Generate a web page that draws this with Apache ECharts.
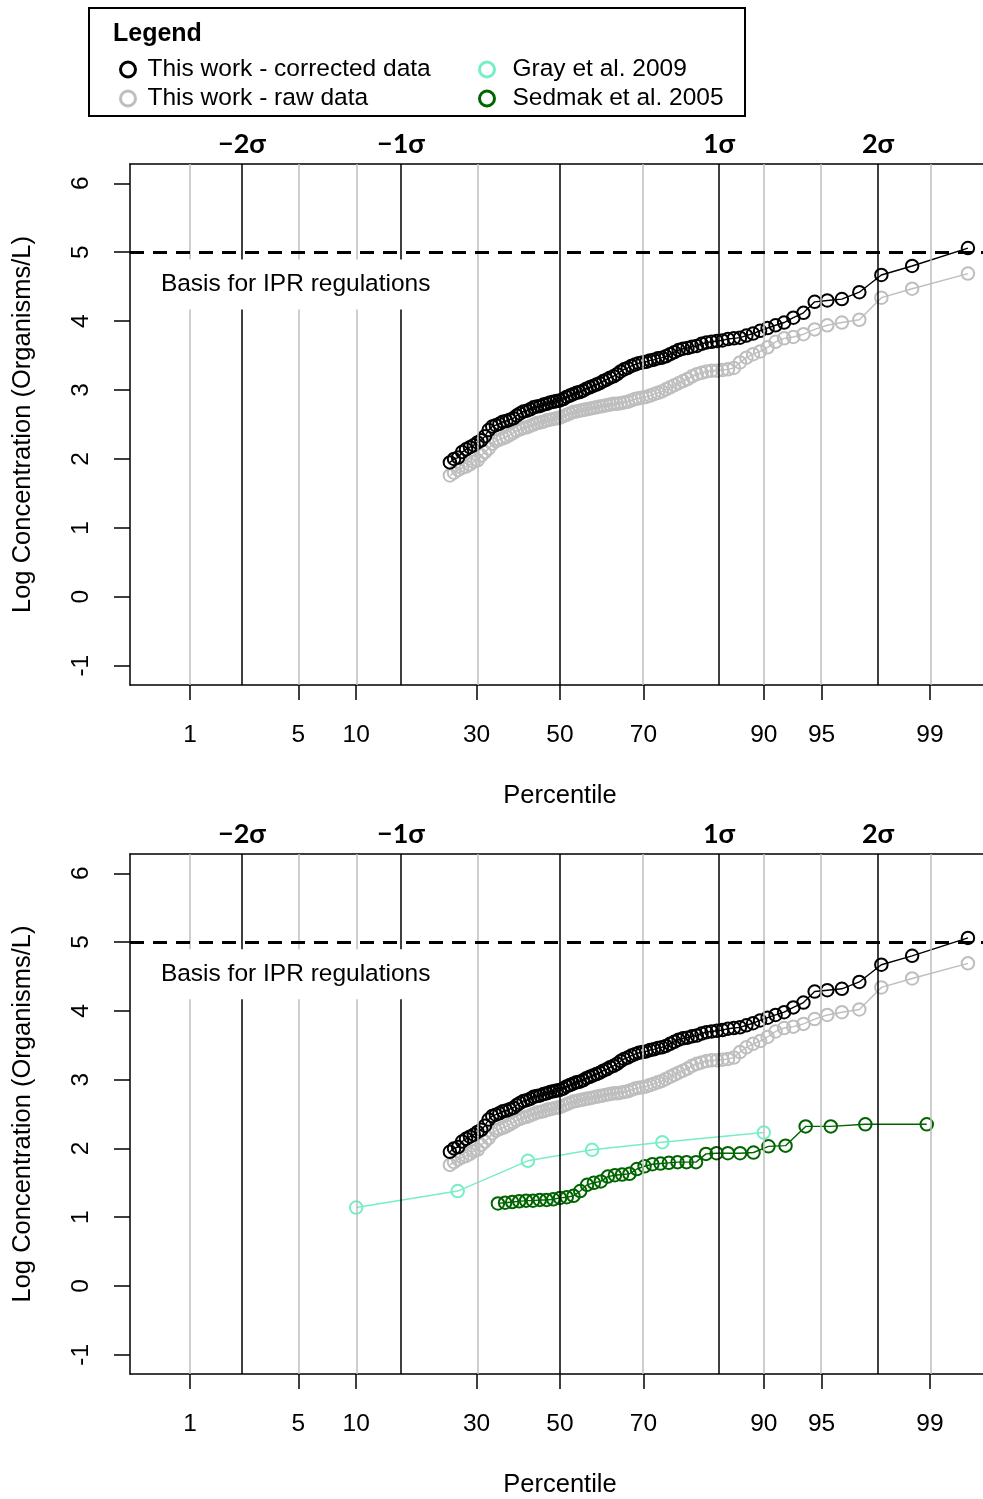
<!DOCTYPE html>
<html>
<head>
<meta charset="utf-8">
<script src="https://cdn.jsdelivr.net/npm/echarts@6/dist/echarts.min.js"></script>
<style>
html,body{margin:0;padding:0;background:#fff}
#chart{width:983px;height:1499px}
</style>
</head>
<body>
<div id="chart"></div>
<script>
// ---- axis ticks and reference lines ----
const percentileTicks = [1, 5, 10, 30, 50, 70, 90, 95, 99];
const greyGuidePercentiles = [1, 5, 10, 30, 70, 90, 95, 99];
const sigmaGuides = [-2, -1, 0, 1, 2];
const sigmaLabels = [-2, -1, 1, 2];
const yTicks = [-1, 0, 1, 2, 3, 4, 5, 6];
const iprLimit = 5;
const iprLabel = 'Basis for IPR regulations';

// ---- data: sorted log concentrations, plotted from a first rank up to n ----
const correctedN = 121, correctedFirstRank = 30;
const correctedValues = [
  1.95, 2.00, 2.02, 2.10, 2.14, 2.17, 2.20, 2.24, 2.27, 2.33,
  2.42, 2.47, 2.49, 2.51, 2.54, 2.55, 2.57, 2.59, 2.63, 2.66,
  2.69, 2.70, 2.72, 2.75, 2.76, 2.77, 2.79, 2.80, 2.82, 2.83,
  2.84, 2.85, 2.87, 2.90, 2.92, 2.94, 2.96, 2.97, 2.99, 3.02,
  3.04, 3.06, 3.08, 3.10, 3.13, 3.15, 3.18, 3.20, 3.23, 3.27,
  3.30, 3.32, 3.35, 3.37, 3.39, 3.40, 3.41, 3.43, 3.44, 3.46,
  3.47, 3.49, 3.52, 3.55, 3.58, 3.60, 3.61, 3.63, 3.64, 3.67,
  3.69, 3.70, 3.71, 3.72, 3.74, 3.75, 3.76, 3.79, 3.82, 3.86,
  3.90, 3.94, 3.98, 4.05, 4.12, 4.28, 4.30, 4.32, 4.42, 4.67,
  4.80, 5.06
];
const rawN = 121, rawFirstRank = 30;
const rawValues = [
  1.76, 1.80, 1.84, 1.87, 1.89, 1.92, 1.96, 1.98, 2.05, 2.10,
  2.15, 2.22, 2.26, 2.28, 2.30, 2.32, 2.35, 2.38, 2.41, 2.43,
  2.45, 2.46, 2.48, 2.50, 2.52, 2.53, 2.54, 2.56, 2.57, 2.58,
  2.59, 2.60, 2.62, 2.64, 2.66, 2.68, 2.69, 2.70, 2.71, 2.72,
  2.73, 2.74, 2.75, 2.76, 2.77, 2.78, 2.79, 2.80, 2.80, 2.81,
  2.82, 2.83, 2.85, 2.87, 2.88, 2.89, 2.90, 2.92, 2.94, 2.96,
  2.98, 3.01, 3.04, 3.07, 3.10, 3.13, 3.16, 3.20, 3.23, 3.25,
  3.27, 3.28, 3.28, 3.29, 3.30, 3.32, 3.40, 3.47, 3.52, 3.56,
  3.62, 3.70, 3.75, 3.77, 3.81, 3.88, 3.94, 3.98, 4.02, 4.34,
  4.47, 4.69
];
const grayN = 6, grayFirstRank = 1;
const grayValues = [1.14, 1.38, 1.82, 1.98, 2.09, 2.23];
const sedmakN = 59, sedmakFirstRank = 21;
const sedmakValues = [
  1.20, 1.21, 1.22, 1.23, 1.24, 1.24, 1.25, 1.25, 1.26, 1.28,
  1.29, 1.31, 1.38, 1.47, 1.50, 1.52, 1.59, 1.61, 1.62, 1.63,
  1.70, 1.74, 1.77, 1.78, 1.79, 1.80, 1.80, 1.80, 1.92, 1.93,
  1.93, 1.93, 1.94, 2.03, 2.04, 2.32, 2.32, 2.35, 2.35
];

// inverse standard normal CDF (Acklam), used for the probability axis
function probit(p) {
  const a = [-3.969683028665376e+01, 2.209460984245205e+02, -2.759285104469687e+02, 1.383577518672690e+02, -3.066479806614716e+01, 2.506628277459239e+00];
  const b = [-5.447609879822406e+01, 1.615858368580409e+02, -1.556989798598866e+02, 6.680131188771972e+01, -1.328068155288572e+01];
  const c = [-7.784894002430293e-03, -3.223964580411365e-01, -2.400758277161838e+00, -2.549732539343734e+00, 4.374664141464968e+00, 2.938163982698783e+00];
  const d = [7.784695709041462e-03, 3.224671290700398e-01, 2.445134137142996e+00, 3.754408661907416e+00];
  const pl = 0.02425, ph = 1 - pl;
  let q, r;
  if (p < pl) {
    q = Math.sqrt(-2 * Math.log(p));
    return (((((c[0]*q+c[1])*q+c[2])*q+c[3])*q+c[4])*q+c[5]) / ((((d[0]*q+d[1])*q+d[2])*q+d[3])*q+1);
  }
  if (p <= ph) {
    q = p - 0.5; r = q * q;
    return (((((a[0]*r+a[1])*r+a[2])*r+a[3])*r+a[4])*r+a[5])*q / (((((b[0]*r+b[1])*r+b[2])*r+b[3])*r+b[4])*r+1);
  }
  q = Math.sqrt(-2 * Math.log(1 - p));
  return -(((((c[0]*q+c[1])*q+c[2])*q+c[3])*q+c[4])*q+c[5]) / ((((d[0]*q+d[1])*q+d[2])*q+d[3])*q+1);
}

// Blom plotting positions on the normal-quantile axis
function probPoints(values, n, firstRank) {
  return values.map((v, k) => [probit((firstRank + k - 0.375) / (n + 0.25)), v]);
}

const FONT = '"Liberation Sans", Arial, sans-serif';
const X_MIN = -2.704, X_MAX = 2.660;
const Y_MIN = -1.28, Y_MAX = 6.28;
const tickZ = percentileTicks.map(p => probit(p / 100));

function percentileLabel(v) {
  let best = 0;
  tickZ.forEach((z, i) => { if (Math.abs(z - v) < Math.abs(tickZ[best] - v)) best = i; });
  return String(percentileTicks[best]);
}

const COLORS = {
  corrected: '#000000',
  raw: '#bebebe',
  gray: '#76eec6',
  sedmak: '#006400'
};
const NAMES = {
  corrected: 'This work - corrected data',
  raw: 'This work - raw data',
  gray: 'Gray et al. 2009',
  sedmak: 'Sedmak et al. 2005'
};

const FRAME = { show: true, onZero: false, lineStyle: { color: '#000', width: 1.5 } };

const panelTops = [164, 854];
const grids = panelTops.map(top => ({ left: 130, top: top, width: 853, height: 521 }));

const xAxes = [];
const yAxes = [];
panelTops.forEach((_, g) => {
  xAxes.push({
    gridIndex: g, type: 'value', min: X_MIN, max: X_MAX, position: 'bottom',
    axisLine: FRAME, splitLine: { show: false },
    axisTick: { show: true, customValues: tickZ, length: 15, lineStyle: { color: '#000', width: 1.5 } },
    axisLabel: { customValues: tickZ, formatter: percentileLabel, fontSize: 24.5, color: '#000', margin: 38, fontFamily: FONT },
    name: 'Percentile', nameLocation: 'middle', nameGap: 98,
    nameTextStyle: { fontSize: 25.5, color: '#000', fontFamily: FONT, padding: [0, 0, 0, 7] }
  });
  xAxes.push({
    gridIndex: g, type: 'value', min: X_MIN, max: X_MAX, position: 'top',
    axisLine: FRAME, axisTick: { show: false }, splitLine: { show: false },
    axisLabel: {
      customValues: sigmaLabels,
      formatter: v => (v < 0 ? '\u2212' : '') + Math.abs(Math.round(v)) + '\u03c3',
      fontSize: 27, fontWeight: 'bold', fontFamily: 'Lato, "DejaVu Sans", sans-serif', color: '#000', margin: 6
    }
  });
  yAxes.push({
    gridIndex: g, type: 'value', min: Y_MIN, max: Y_MAX,
    axisLine: FRAME, splitLine: { show: false },
    axisTick: { show: true, customValues: yTicks, length: 16, lineStyle: { color: '#000', width: 1.5 } },
    axisLabel: { customValues: yTicks, rotate: 90, fontSize: 24.5, color: '#000', margin: 36, fontFamily: FONT },
    name: 'Log Concentration (Organisms/L)', nameLocation: 'middle', nameGap: 94,
    nameTextStyle: { fontSize: 25.5, color: '#000', fontFamily: FONT }
  });
});

function guideSeries(g) {
  const lines = [];
  greyGuidePercentiles.forEach(p => lines.push({ xAxis: probit(p / 100), lineStyle: { color: '#bebebe', width: 1.5, type: 'solid' } }));
  sigmaGuides.forEach(z => lines.push({ xAxis: z, lineStyle: { color: '#000', width: 1.5, type: 'solid' } }));
  lines.push({ yAxis: iprLimit, lineStyle: { color: '#000', width: 3, type: [14, 9] } });
  return {
    type: 'line', name: 'guides' + g, xAxisIndex: 2 * g, yAxisIndex: g, data: [],
    z: 1, silent: true, animation: false,
    markLine: { symbol: 'none', silent: true, animation: false, label: { show: false }, emphasis: { disabled: true }, data: lines }
  };
}

function labelSeries(g) {
  return {
    type: 'line', name: 'ipr' + g, xAxisIndex: 2 * g, yAxisIndex: g, data: [],
    z: 2, silent: true, animation: false,
    markPoint: {
      symbol: 'circle', symbolSize: 0, silent: true, animation: false,
      data: [{
        coord: [-2.579, 4.53],
        label: {
          show: true, position: 'right', distance: 0, formatter: iprLabel,
          fontSize: 24.5, color: '#000', fontFamily: FONT,
          backgroundColor: '#fff', padding: [16, 12, 9, 11]
        }
      }]
    }
  };
}

function dataSeries(key, pts, g) {
  return {
    type: 'line', name: NAMES[key], xAxisIndex: 2 * g, yAxisIndex: g, data: pts,
    z: 3, animation: false, silent: true,
    symbol: 'circle', symbolSize: 12.5, showSymbol: true, showAllSymbol: true,
    itemStyle: { color: 'rgba(0,0,0,0)', borderColor: COLORS[key], borderWidth: 2 },
    lineStyle: { color: COLORS[key], width: 1.4 },
    emphasis: { disabled: true }
  };
}

const correctedPts = probPoints(correctedValues, correctedN, correctedFirstRank);
const rawPts = probPoints(rawValues, rawN, rawFirstRank);
const grayPts = probPoints(grayValues, grayN, grayFirstRank);
const sedmakPts = probPoints(sedmakValues, sedmakN, sedmakFirstRank);

const series = [
  guideSeries(0), labelSeries(0),
  dataSeries('raw', rawPts, 0), dataSeries('corrected', correctedPts, 0),
  guideSeries(1), labelSeries(1),
  dataSeries('raw', rawPts, 1), dataSeries('corrected', correctedPts, 1),
  dataSeries('gray', grayPts, 1), dataSeries('sedmak', sedmakPts, 1)
];

function legendItem(key) {
  return { name: NAMES[key], icon: 'circle', itemStyle: { color: 'rgba(0,0,0,0)', borderColor: COLORS[key], borderWidth: 3 } };
}

const legendCommon = {
  orient: 'vertical', top: 57, itemWidth: 15, itemHeight: 15, itemGap: 4, padding: 0,
  selectedMode: false
};

const option = {
  animation: false,
  backgroundColor: '#fff',
  textStyle: { fontFamily: FONT, color: '#000' },
  title: {
    text: 'Legend', left: 113, top: 22, padding: 0,
    textStyle: { fontSize: 25, fontWeight: 'bold', color: '#000', fontFamily: FONT }
  },
  legend: [
    Object.assign({}, legendCommon, {
      left: 119,
      textStyle: { fontSize: 24.5, color: '#000', lineHeight: 22, fontFamily: FONT, padding: [0, 0, 0, 7] },
      data: [legendItem('corrected'), legendItem('raw')]
    }),
    Object.assign({}, legendCommon, {
      left: 478,
      textStyle: { fontSize: 24.5, color: '#000', lineHeight: 22, fontFamily: FONT, padding: [0, 0, 0, 13] },
      data: [legendItem('gray'), legendItem('sedmak')]
    })
  ],
  graphic: [{
    type: 'rect', silent: true,
    shape: { x: 89, y: 8, width: 656, height: 108 },
    style: { fill: 'none', stroke: '#000', lineWidth: 2 }
  }],
  grid: grids,
  xAxis: xAxes,
  yAxis: yAxes,
  series: series
};

const chart = echarts.init(document.getElementById('chart'), null, { renderer: 'canvas' });
chart.setOption(option);
</script>
</body>
</html>
